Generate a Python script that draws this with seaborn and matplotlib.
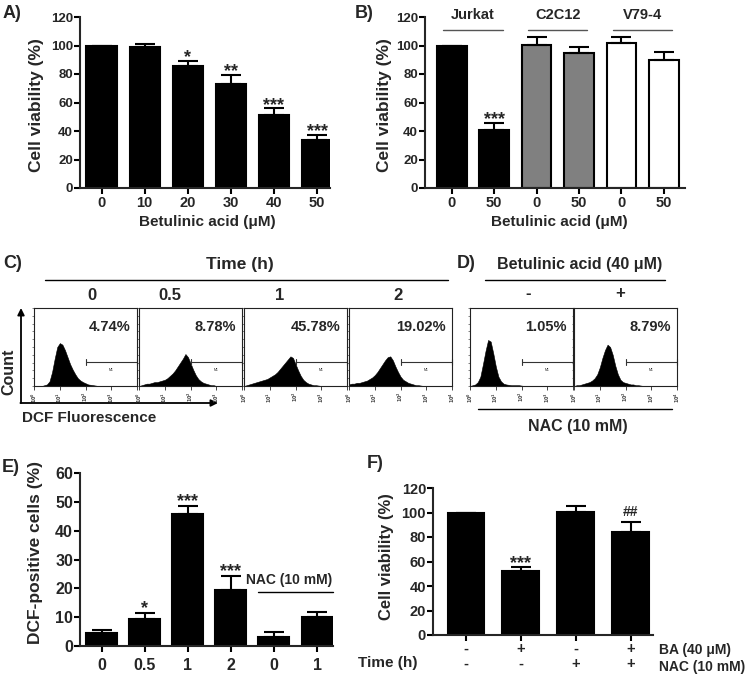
import numpy as np
import matplotlib
matplotlib.use('Agg')
import matplotlib.pyplot as plt
import seaborn as sns
from matplotlib.lines import Line2D

sns.set_style('ticks')
plt.rcParams['font.family'] = ['Liberation Sans', 'DejaVu Sans']
plt.rcParams['font.weight'] = 'bold'
plt.rcParams['axes.labelweight'] = 'bold'
plt.rcParams['axes.linewidth'] = 1.5

W, H = 750, 678

# ---- data ----
# A) dose response in Jurkat
dose_labels = ['0', '10', '20', '30', '40', '50']
dose_viab = [100, 99.2, 85.8, 73.2, 51.0, 33.5]
dose_err = [0, 1.8, 3.6, 6.1, 4.9, 3.7]
dose_sig = ['', '', '*', '**', '***', '***']

# B) three cell lines
cell_lines = ['Jurkat', 'C2C12', 'V79-4']
line_doses = ['0', '50', '0', '50', '0', '50']
line_viab = [100, 40.5, 100.6, 94.7, 101.8, 90.0]
line_err = [0, 5.1, 5.4, 4.3, 4.2, 5.2]
line_sig = ['', '***', '', '', '', '']
line_colors = ['black', 'black', '#808080', '#808080', 'white', 'white']

# C / D) DCF histograms (fraction of frame height, log10 fluorescence 0..4)
log_bins = np.linspace(0, 4, 41)
hist_t0 = [0, 0, 0, 0, 0.01, 0.02, 0.06, 0.18, 0.35, 0.50, 0.55, 0.53, 0.46, 0.37, 0.28,
           0.21, 0.15, 0.10, 0.07, 0.05, 0.035, 0.02, 0.015, 0.01, 0.005, 0, 0, 0, 0, 0,
           0, 0, 0, 0, 0, 0, 0, 0, 0, 0, 0]
hist_t05 = [0, 0.01, 0.02, 0.03, 0.03, 0.04, 0.05, 0.05, 0.06, 0.07, 0.08, 0.10, 0.13, 0.16, 0.20,
            0.25, 0.30, 0.35, 0.41, 0.37, 0.29, 0.21, 0.14, 0.09, 0.06, 0.04, 0.03, 0.02, 0.01, 0.01,
            0, 0, 0, 0, 0, 0, 0, 0, 0, 0, 0]
hist_t1 = [0, 0.01, 0.02, 0.03, 0.04, 0.05, 0.06, 0.07, 0.08, 0.09, 0.11, 0.13, 0.15, 0.18, 0.22,
           0.26, 0.30, 0.34, 0.38, 0.36, 0.28, 0.20, 0.13, 0.08, 0.05, 0.03, 0.02, 0.01, 0.01, 0.005,
           0, 0, 0, 0, 0, 0, 0, 0, 0, 0, 0]
hist_t2 = [0.02, 0.03, 0.03, 0.04, 0.04, 0.05, 0.06, 0.07, 0.09, 0.11, 0.14, 0.18, 0.23, 0.28, 0.33,
           0.37, 0.38, 0.33, 0.25, 0.18, 0.12, 0.08, 0.06, 0.04, 0.03, 0.02, 0.01, 0.01, 0.005, 0,
           0, 0, 0, 0, 0, 0, 0, 0, 0, 0, 0]
hist_nac = [0, 0.01, 0.02, 0.05, 0.12, 0.28, 0.45, 0.59, 0.57, 0.42, 0.25, 0.12, 0.06, 0.03, 0.02,
            0.015, 0.01, 0.01, 0.01, 0.01, 0.005, 0, 0, 0, 0, 0, 0, 0, 0, 0,
            0, 0, 0, 0, 0, 0, 0, 0, 0, 0, 0]
hist_nac_ba = [0, 0.01, 0.01, 0.02, 0.03, 0.04, 0.05, 0.07, 0.10, 0.15, 0.24, 0.36, 0.46, 0.53, 0.50,
               0.40, 0.26, 0.15, 0.08, 0.05, 0.04, 0.03, 0.02, 0.02, 0.01, 0.01, 0.005, 0, 0, 0,
               0, 0, 0, 0, 0, 0, 0, 0, 0, 0, 0]
time_labels = ['0', '0.5', '1', '2']
time_pct = ['4.74%', '8.78%', '45.78%', '19.02%']
nac_labels = ['-', '+']
nac_pct = ['1.05%', '8.79%']

# E) DCF-positive cells
dcf_labels = ['0', '0.5', '1', '2', '0', '1']
dcf_vals = [4.6, 9.5, 45.7, 19.4, 3.1, 10.1]
dcf_err = [0.9, 2.0, 2.9, 5.0, 1.8, 1.7]
dcf_sig = ['', '*', '***', '***', '', '']

# F) NAC rescue
ba_signs = ['-', '+', '-', '+']
nac_signs = ['-', '-', '+', '+']
nac_viab = [100, 52.4, 100.4, 83.7]
nac_err = [0, 3.0, 4.6, 8.5]
nac_sig = ['', '***', '', '##']

fig = plt.figure(figsize=(W / 100, H / 100), dpi=100)


def add_ax(x0, y0, x1, y1):
    return fig.add_axes([x0 / W, 1 - y1 / H, (x1 - x0) / W, (y1 - y0) / H])


def ftext(x, y, s, **kw):
    kw.setdefault('ha', 'center')
    kw.setdefault('va', 'center')
    fig.text(x / W, 1 - y / H, s, **kw)


def fline(x0, x1, y, color='black', lw=1.0):
    fig.add_artist(Line2D([x0 / W, x1 / W], [1 - y / H, 1 - y / H], color=color, lw=lw))


def bars(ax, values, errs, colors, width):
    keys = [str(i) for i in range(len(values))]
    sns.barplot(x=keys, y=values, hue=keys, palette=dict(zip(keys, colors)), legend=False,
                width=width, edgecolor='black', linewidth=1.5, saturation=1, ax=ax)
    pos = np.arange(len(values))
    ax.errorbar(pos, values, yerr=[np.zeros(len(errs)), errs], fmt='none', ecolor='black',
                elinewidth=1.5, capsize=7, capthick=1.5)
    sns.despine(ax=ax)
    ax.tick_params(width=1.5, length=4, color='black')


def stars(ax, values, errs, marks, size, offset=-1):
    for i, (v, e, m) in enumerate(zip(values, errs, marks)):
        if m:
            ax.annotate(m, (i, v + e), xytext=(0, offset), textcoords='offset points',
                        ha='center', va='baseline', fontsize=size, fontweight='bold')


# ---- A ----
axA = add_ax(80, 17, 330, 188)
bars(axA, dose_viab, dose_err, ['black'] * 6, 0.7)
stars(axA, dose_viab, dose_err, dose_sig, 13)
axA.set_xlim(-0.5, 5.3)
axA.set_ylim(0, 120)
axA.set_yticks(range(0, 121, 20))
axA.set_xticks(range(6))
axA.set_xticklabels(dose_labels)
axA.tick_params(axis='x', labelsize=10.5, pad=2)
axA.tick_params(axis='y', labelsize=9.5, pad=1)
ftext(207, 222, 'Betulinic acid (\u03bcM)', fontsize=11, fontweight='bold')
ftext(37, 105, 'Cell viability (%)', rotation=90, fontsize=12.5, fontweight='bold')

# ---- B ----
axB = add_ax(425, 17, 685, 188)
bars(axB, line_viab, line_err, line_colors, 0.7)
stars(axB, line_viab, line_err, line_sig, 13)
axB.set_xlim(-0.63, 5.5)
axB.set_ylim(0, 120)
axB.set_yticks(range(0, 121, 20))
axB.set_xticks(range(6))
axB.set_xticklabels(line_doses)
axB.tick_params(axis='x', labelsize=10.5, pad=2)
axB.tick_params(axis='y', labelsize=9.5, pad=1)
for k, name in enumerate(cell_lines):
    axB.text(2 * k + 0.5, 121.5, name, ha='center', va='center', fontsize=10.5,
             fontweight='bold', clip_on=False)
    axB.plot([2 * k - 0.2, 2 * k + 1.2], [111, 111], color='#555555', lw=1, clip_on=False)
ftext(559, 222, 'Betulinic acid (\u03bcM)', fontsize=11, fontweight='bold')
ftext(385, 105, 'Cell viability (%)', rotation=90, fontsize=12.5, fontweight='bold')


# ---- C / D flow histograms ----
def flow(ax, hist, pct, last):
    sns.histplot(x=10 ** log_bins, weights=hist, bins=41, binrange=(-0.05, 4.05), log_scale=True,
                 element='poly', fill=True, color='black', alpha=1, linewidth=0.4, ax=ax)
    ax.set_xlim(1, 1e4)
    ax.set_ylim(0, 1)
    ax.set_xlabel('')
    ax.set_ylabel('')
    for s in ax.spines.values():
        s.set_linewidth(0.8)
        s.set_color('#222222')
    ax.set_xticks([1, 10, 100, 1000, 10000])
    dec = ['$10^0$', '$10^1$', '$10^2$', '$10^3$', '$10^4$' if last else '']
    ax.set_xticklabels(dec, fontsize=3.5, rotation=90, color='#444444', fontweight='normal')
    ax.tick_params(axis='x', which='major', length=3, width=0.6, pad=1)
    ax.tick_params(axis='x', which='minor', length=1.5, width=0.4)
    ax.set_yticks(np.linspace(0, 1, 11))
    ax.set_yticklabels([])
    ax.tick_params(axis='y', length=1.5, width=0.4)
    g = 0.31
    ax.plot([100, 1e4], [g, g], color='#333333', lw=0.8, clip_on=False)
    for xe in (100, 1e4):
        ax.plot([xe, xe], [g - 0.04, g + 0.04], color='#333333', lw=0.8, clip_on=False)
    ax.text(1000, g - 0.1, 'M1', fontsize=2.5, ha='center', va='center', fontweight='normal')
    ax.text(0.94, 0.76, pct, transform=ax.transAxes, ha='right', va='center',
            fontsize=10.5, fontweight='bold')


c_hists = [hist_t0, hist_t05, hist_t1, hist_t2]
c_lefts = [34, 139, 244, 349]
c_head_x = [92, 170, 280, 398]
for i, (left, hist, pct, lab, hx) in enumerate(zip(c_lefts, c_hists, time_pct, time_labels, c_head_x)):
    ax = add_ax(left, 308, left + 103, 386)
    flow(ax, hist, pct, i == len(c_lefts) - 1)
    ftext(hx, 295, lab, fontsize=12, fontweight='bold')
    if i == 0:
        axC0 = ax

d_hists = [hist_nac, hist_nac_ba]
d_lefts = [470, 574]
d_head_x = [528, 620]
for i, (left, hist, pct, lab, hx) in enumerate(zip(d_lefts, d_hists, nac_pct, nac_labels, d_head_x)):
    ax = add_ax(left, 308, left + 103, 386)
    flow(ax, hist, pct, i == len(d_lefts) - 1)
    ftext(hx, 293, lab, fontsize=12, fontweight='bold')

ftext(240, 265, 'Time (h)', fontsize=12.5, fontweight='bold')
fline(45, 448, 280)
ftext(580, 265, 'Betulinic acid (40 \u03bcM)', fontsize=11.5, fontweight='bold')
fline(485, 665, 280)
fline(478, 672, 409)
ftext(578, 427, 'NAC (10 mM)', fontsize=11.5, fontweight='bold')

# Count / DCF arrows
arrow = dict(arrowstyle='-|>', lw=1.3, color='black', mutation_scale=10, shrinkA=0, shrinkB=0)
axC0.annotate('', xy=(21, H - 308), xytext=(21, H - 403), xycoords='figure pixels',
              textcoords='figure pixels', arrowprops=arrow, annotation_clip=False)
axC0.annotate('', xy=(218, H - 403), xytext=(20.4, H - 403), xycoords='figure pixels',
              textcoords='figure pixels', arrowprops=arrow, annotation_clip=False)
ftext(9, 372, 'Count', rotation=90, fontsize=11.5, fontweight='bold')
ftext(22, 418, 'DCF Fluorescence', ha='left', fontsize=11, fontweight='bold')

# ---- E ----
axE = add_ax(80, 473, 333, 646)
bars(axE, dcf_vals, dcf_err, ['black'] * 6, 0.72)
stars(axE, dcf_vals, dcf_err, dcf_sig, 13, offset=-0.5)
axE.set_xlim(-0.5, 5.37)
axE.set_ylim(0, 60)
axE.set_yticks(range(0, 61, 10))
axE.set_xticks(range(6))
axE.set_xticklabels(dcf_labels)
axE.tick_params(axis='x', labelsize=11.5, pad=5)
axE.tick_params(axis='y', labelsize=11.5, pad=1)
axE.text(4.35, 22.9, 'NAC (10 mM)', ha='center', va='center', fontsize=10, fontweight='bold')
axE.plot([3.64, 5.37], [18.7, 18.7], color='black', lw=1, clip_on=False)
ftext(358, 663, 'Time (h)', ha='left', fontsize=11, fontweight='bold')
ftext(36, 553, 'DCF-positive cells (%)', rotation=90, fontsize=12.5, fontweight='bold')

# ---- F ----
axF = add_ax(433, 488, 653, 635)
bars(axF, nac_viab, nac_err, ['black'] * 4, 0.67)
stars(axF, nac_viab[:3], nac_err[:3], nac_sig[:3], 13)
axF.annotate(nac_sig[3], (3, nac_viab[3] + nac_err[3]), xytext=(0, 4), textcoords='offset points',
             ha='center', va='baseline', fontsize=10, fontweight='bold')
axF.set_xlim(-0.6, 3.41)
axF.set_ylim(0, 120)
axF.set_yticks(range(0, 121, 20))
axF.set_xticks(range(4))
axF.set_xticklabels([f'{b}\n{n}' for b, n in zip(ba_signs, nac_signs)], linespacing=1.1)
axF.tick_params(axis='x', labelsize=10.5, pad=1)
axF.tick_params(axis='y', labelsize=10.5, pad=1)
ftext(659, 650, 'BA (40 \u03bcM)', ha='left', fontsize=10, fontweight='bold')
ftext(659, 667, 'NAC (10 mM)', ha='left', fontsize=10, fontweight='bold')
ftext(387, 557, 'Cell viability (%)', rotation=90, fontsize=12, fontweight='bold')

# panel letters
for lab, x, y in [('A)', 3, 13), ('B)', 355, 13), ('C)', 3, 263), ('D)', 457, 263),
                  ('E)', 2, 467), ('F)', 367, 463)]:
    ftext(x, y, lab, ha='left', fontsize=13, fontweight='bold')

fig.savefig('out.png', dpi=100)
